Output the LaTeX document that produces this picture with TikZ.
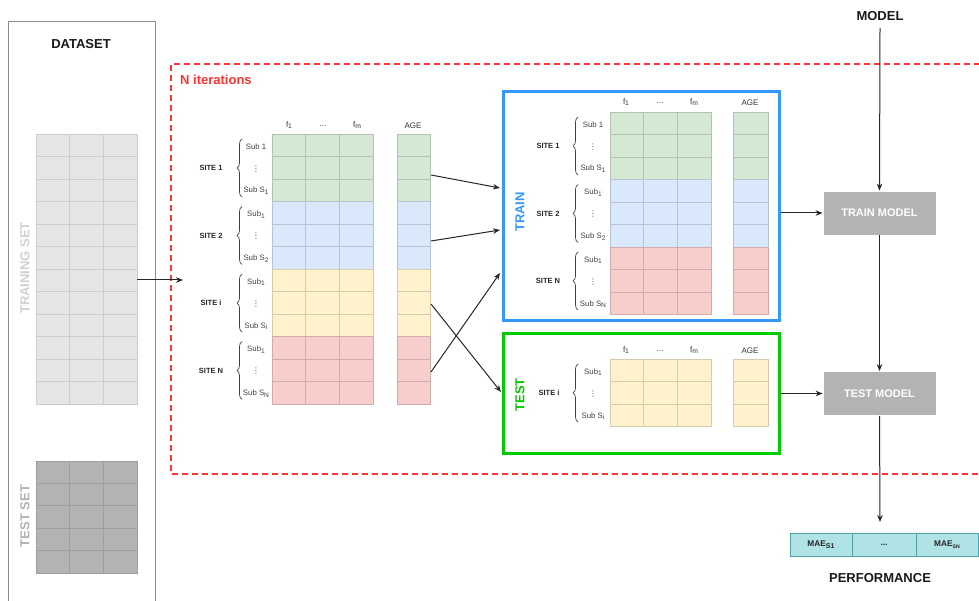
\documentclass[tikz,border=0pt]{standalone}
\usepackage{fontspec}
\setmainfont{Liberation Sans}
\newfontfamily\dvfont{DejaVu Sans}
\usepackage{graphicx}
\usetikzlibrary{arrows.meta,decorations.pathreplacing,calc}

\definecolor{cgreen}{HTML}{D5E8D4}
\definecolor{cblue}{HTML}{DAE8FC}
\definecolor{cyellow}{HTML}{FFF2CC}
\definecolor{cred}{HTML}{F8CECC}
\definecolor{iterred}{HTML}{FF3333}
\definecolor{trainblue}{HTML}{3399FF}
\definecolor{testgreen}{HTML}{00CC00}
\definecolor{boxgray}{HTML}{B3B3B3}
\definecolor{maefill}{HTML}{B0E3E6}
\definecolor{maeline}{HTML}{4FA3A8}

% lowered subscript in the running font
\newcommand\lsub[1]{\raisebox{-0.4ex}{\scalebox{0.85}{#1}}}

% a block of equal cells: x0, y0, columns, column width, rows, row height, style
\newcommand\gridblock[7]{%
  \foreach \ci in {1,...,#3}{%
    \foreach \ri in {1,...,#5}{%
      \path[#7] ({#1+(\ci-1)*#4},{#2+(\ri-1)*#6}) rectangle ++(#4,#6);}}}

% site label, brace and subject labels for a three-row block:
% label x, brace x, sub x, top y, site text, first sub, last sub, name
\newcommand\siteblock[8]{%
  \node[sitelbl] (#8-site) at (#1,{#4+34}) {#5};
  \draw[bracedraw] (#2,{#4+63}) -- (#2,{#4+5});
  \node[sublbl] (#8-first) at (#3,{#4+13}) {#6};
  \node[sublbl] (#8-dots) at (#3,{#4+35}) {\dvfont ⋮};
  \node[sublbl] (#8-last) at (#3,{#4+57}) {#7};}

\tikzset{
  gcell/.style={draw=#1!84!black, fill=#1, line width=0.8pt},
  dcell/.style={draw=black!20, fill=black!10, line width=0.9pt},
  tcell/.style={draw=black!38, fill=boxgray, line width=0.9pt},
  hdr/.style={font=\fontsize{8}{9}\selectfont, text=black!80, inner sep=1pt},
  sitelbl/.style={font=\bfseries\fontsize{7.5}{9}\selectfont, text=black!85, inner sep=1pt},
  sublbl/.style={font=\fontsize{7.8}{9}\selectfont, text=black!75, inner sep=1pt},
  bracedraw/.style={draw=black!75, line width=0.7pt, decorate,
    decoration={brace, amplitude=5pt}},
  big/.style={font=\bfseries\fontsize{13}{15}\selectfont, inner sep=2pt},
  arr/.style={draw=black!85, line width=1pt, -{Stealth[length=7pt,width=5.5pt]}},
  stepbox/.style={fill=boxgray, draw=white, line width=0.8pt, text=white,
    font=\bfseries\fontsize{11}{13}\selectfont, minimum width=113pt, minimum height=44pt},
  maecell/.style={fill=maefill, draw=maeline, line width=0.9pt,
    font=\bfseries\fontsize{8.3}{10}\selectfont, text=black!85,
    minimum height=23pt, inner sep=0pt},
}

\begin{document}
\begin{tikzpicture}[x=1pt,y=-1pt]
\useasboundingbox (0,0) rectangle (979,601);
\clip (0,0) rectangle (979,601);

% ---------- dataset panel ----------
\node[draw=black!45, line width=1pt, minimum width=147pt, minimum height=600pt,
  inner sep=0pt] (dataset) at (81.5,322) {};
\node[big, text=black!90] (datasetlbl) at (81,44) {DATASET};
\gridblock{36}{134}{3}{33.7}{12}{22.5}{dcell}
\gridblock{36}{461}{3}{33.7}{5}{22.4}{tcell}
\node[big, rotate=90, text=black!18] (trainsetlbl) at (25,268) {TRAINING SET};
\node[big, rotate=90, text=black!30] (testsetlbl) at (25,516) {TEST SET};
\coordinate (trainsetout) at (137,280);
\coordinate (iterin) at (183,280);

% ---------- iteration frame ----------
\draw[iterred, line width=1.5pt, dash pattern=on 6pt off 4pt]
  (990,64) -- (171,64) -- (171,474) -- (990,474);
\node[font=\bfseries\fontsize{13}{15}\selectfont, text=iterred, anchor=west,
  inner sep=0pt] (iterlbl) at (180,80) {N iterations};

% ---------- full matrix ----------
\gridblock{272}{134}{3}{33.7}{3}{22.5}{gcell=cgreen}
\gridblock{272}{201.5}{3}{33.7}{3}{22.5}{gcell=cblue}
\gridblock{272}{269}{3}{33.7}{3}{22.5}{gcell=cyellow}
\gridblock{272}{336.5}{3}{33.7}{3}{22.5}{gcell=cred}
\gridblock{397}{134}{1}{33}{3}{22.5}{gcell=cgreen}
\gridblock{397}{201.5}{1}{33}{3}{22.5}{gcell=cblue}
\gridblock{397}{269}{1}{33}{3}{22.5}{gcell=cyellow}
\gridblock{397}{336.5}{1}{33}{3}{22.5}{gcell=cred}
\node[hdr] (mh1) at (289,125) {f\lsub{1}};
\node[hdr] (mh2) at (323,126) {...};
\node[hdr] (mh3) at (357,125) {f\lsub{m}};
\node[hdr] (mh4) at (413,126) {AGE};
\siteblock{211}{242}{256}{134}{SITE 1}{Sub 1}{Sub S\lsub{1}}{ms1}
\siteblock{211}{242}{256}{201.5}{SITE 2}{Sub\lsub{1}}{Sub S\lsub{2}}{ms2}
\siteblock{211}{242}{256}{269}{SITE i}{Sub\lsub{1}}{Sub S\lsub{i}}{msi}
\siteblock{211}{242}{256}{336.5}{SITE N}{Sub\lsub{1}}{Sub S\lsub{N}}{msn}

% ---------- train panel ----------
\node[draw=trainblue, line width=3pt, minimum width=276pt, minimum height=229pt,
  inner sep=0pt] (train) at (641,206.5) {};
\node[big, rotate=90, text=trainblue] (trainlbl) at (520,212) {TRAIN};
\gridblock{610}{112}{3}{33.7}{3}{22.5}{gcell=cgreen}
\gridblock{610}{179.5}{3}{33.7}{3}{22.5}{gcell=cblue}
\gridblock{610}{247}{3}{33.7}{3}{22.5}{gcell=cred}
\gridblock{733}{112}{1}{35}{3}{22.5}{gcell=cgreen}
\gridblock{733}{179.5}{1}{35}{3}{22.5}{gcell=cblue}
\gridblock{733}{247}{1}{35}{3}{22.5}{gcell=cred}
\node[hdr] (th1) at (626,102) {f\lsub{1}};
\node[hdr] (th2) at (660,103) {...};
\node[hdr] (th3) at (694,102) {f\lsub{m}};
\node[hdr] (th4) at (750,103) {AGE};
\siteblock{548}{578}{593}{112}{SITE 1}{Sub 1}{Sub S\lsub{1}}{ts1}
\siteblock{548}{578}{593}{179.5}{SITE 2}{Sub\lsub{1}}{Sub S\lsub{2}}{ts2}
\siteblock{548}{578}{593}{247}{SITE N}{Sub\lsub{1}}{Sub S\lsub{N}}{tsn}

% ---------- test panel ----------
\node[draw=testgreen, line width=3pt, minimum width=276pt, minimum height=120pt,
  inner sep=0pt] (test) at (641,393) {};
\node[big, rotate=90, text=testgreen] (testlbl) at (520,395) {TEST};
\gridblock{610}{359}{3}{33.7}{3}{22.5}{gcell=cyellow}
\gridblock{733}{359}{1}{35}{3}{22.5}{gcell=cyellow}
\node[hdr] (sh1) at (626,350) {f\lsub{1}};
\node[hdr] (sh2) at (660,351) {...};
\node[hdr] (sh3) at (694,350) {f\lsub{m}};
\node[hdr] (sh4) at (750,351) {AGE};
\siteblock{549}{578}{593}{359}{SITE i}{Sub\lsub{1}}{Sub S\lsub{i}}{ssi}

% ---------- model column ----------
\node[big, text=black!90] (model) at (880,16) {MODEL};
\coordinate (modelout) at (880,28);
\node[stepbox] (trainmodel) at (879.5,213) {TRAIN MODEL};
\node[stepbox] (testmodel) at (879.5,393.5) {TEST MODEL};
\coordinate (perfin) at (880,522);
\node[maecell, minimum width=62pt] (mae1) at (821,544.5) {MAE\lsub{S1}};
\node[maecell, minimum width=64pt] (mae2) at (884,544.5) {...};
\node[maecell, minimum width=62pt] (mae3) at (947,544.5) {MAE\lsub{\fontsize{6}{7}\selectfont SN}};
\node[big, text=black!90] (perf) at (880,578) {PERFORMANCE};

% ---------- split connectors ----------
\coordinate (a1s) at (431,175);  \coordinate (a1e) at (500,188);
\coordinate (a2s) at (431,241);  \coordinate (a2e) at (500,230);
\coordinate (a3s) at (431,304);  \coordinate (a3e) at (501,392);
\coordinate (a4s) at (431,372);  \coordinate (a4e) at (500,273);

\draw[arr] (trainsetout) -- (iterin);
\draw[arr] (a1s) -- (a1e);
\draw[arr] (a2s) -- (a2e);
\draw[arr] (a3s) -- (a3e);
\draw[arr] (a4s) -- (a4e);
\draw[arr] (train.east |- trainmodel.west) -- (trainmodel.west);
\draw[arr] (test.east |- testmodel.west) -- (testmodel.west);
\draw[arr] (modelout) -- (trainmodel.north);
\draw[arr] (trainmodel.south) -- (testmodel.north);
\draw[arr] (testmodel.south) -- (perfin);
\end{tikzpicture}
\end{document}
